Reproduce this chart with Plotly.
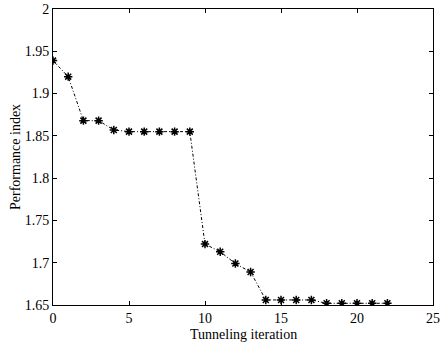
import plotly.graph_objects as go

iterations = list(range(0, 23))
performance = [1.939, 1.920, 1.868, 1.868, 1.857, 1.855, 1.855, 1.855, 1.855, 1.855,
               1.722, 1.713, 1.699, 1.689, 1.656, 1.656, 1.656, 1.656,
               1.652, 1.652, 1.652, 1.652, 1.652]
x_ticks = [0, 5, 10, 15, 20, 25]
y_ticks = [1.65, 1.7, 1.75, 1.8, 1.85, 1.9, 1.95, 2]
y_tick_labels = ["1.65", "1.7", "1.75", "1.8", "1.85", "1.9", "1.95", "2"]
x_title = "Tunneling iteration"
y_title = "Performance index"

fig = go.Figure()
fig.add_trace(go.Scatter(
    x=iterations, y=performance, mode="lines+markers",
    line=dict(color="black", width=1, dash="3px,2px,1px,2px"),
    marker=dict(symbol="asterisk-open", size=7, color="black",
                line=dict(color="black", width=1.5)),
    showlegend=False,
))

font = dict(family="Liberation Serif, Times New Roman, serif", size=14, color="black")
axis_common = dict(showgrid=False, zeroline=False, showline=True, linecolor="black",
                   linewidth=1, mirror="ticks", ticks="inside", ticklen=4,
                   tickcolor="black", tickfont=font, automargin=False)
fig.update_xaxes(range=[0, 25], tickvals=x_ticks, **axis_common)
fig.update_yaxes(range=[1.65, 2], tickvals=y_ticks, ticktext=y_tick_labels, **axis_common)
plot_w = 442 - 53 - 9
plot_h = 342 - 9 - 37
fig.add_annotation(text=x_title, xref="paper", yref="paper", x=0.5, y=-29 / plot_h,
                   xanchor="center", yanchor="middle", showarrow=False, font=font)
fig.add_annotation(text=y_title, xref="paper", yref="paper", x=-38 / plot_w, y=0.5,
                   xanchor="center", yanchor="middle", textangle=-90,
                   showarrow=False, font=font)
fig.update_layout(width=442, height=342, margin=dict(l=53, r=9, t=9, b=37),
                  paper_bgcolor="white", plot_bgcolor="white", font=font)
fig.write_html("out.html")
